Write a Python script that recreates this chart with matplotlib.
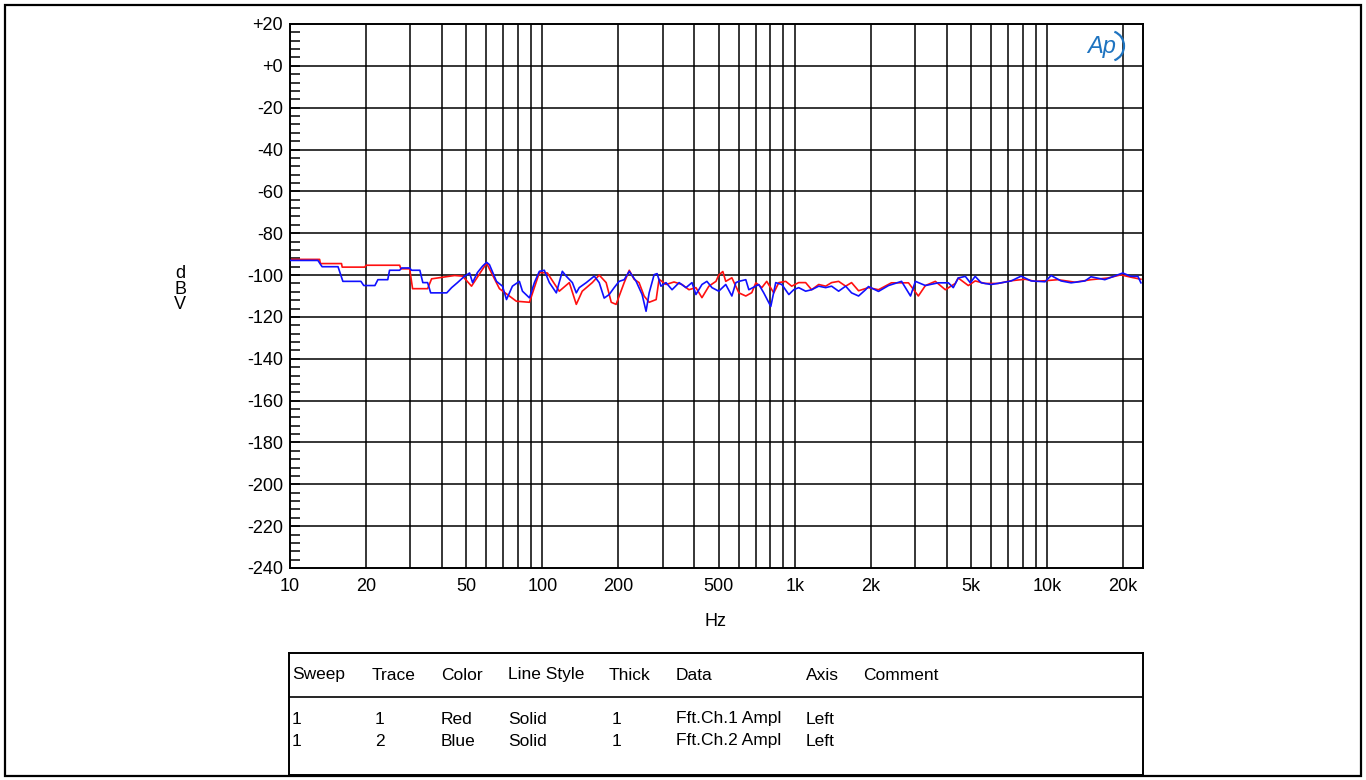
#!/usr/bin/env python

""" FFT noise spectrum, ch1 / ch2, dBV vs Hz """

import matplotlib
matplotlib.use("Agg")
import matplotlib.pyplot as plt
from matplotlib.patches import Rectangle, Arc

# trace 1 (red), Fft.Ch.1 Ampl
red_freq = [10, 13.1, 13.2, 16.0, 16.1, 19.8, 20.0, 27.2, 27.5, 29.8, 30.6,
            35.1, 36.4, 44.9, 48.3, 52.4, 60.1, 67.6, 78.9, 88.9, 97.3, 104.7,
            116.7, 127.9, 136.3, 143.9, 157.7, 168, 179, 187.5, 196, 211, 221,
            231, 241.7, 253, 265, 282.5, 290, 309, 332.5, 357.5, 381, 406, 429,
            457, 487.5, 500, 519, 533, 563.6, 601, 640, 676, 701.5, 741, 774.6,
            826, 865, 921, 973, 1037, 1105, 1167, 1245, 1327, 1400, 1493, 1592,
            1680, 1791, 1960, 2148, 2417, 2824, 3090, 3296, 3608, 3953, 4327,
            4446, 4875, 5190, 5690, 6400, 7210, 8190, 8970, 9820, 11050, 12900,
            14930, 17420, 19600, 21480, 23550]
red_dbv = [-92.5, -92.5, -94.5, -94.5, -96.2, -96.2, -95.3, -95.3, -97.0, -97.0,
           -106.5, -106.5, -101.8, -100.2, -100.5, -105.3, -94.3, -106.5, -112.5,
           -113.0, -98.8, -99.0, -107.7, -103.6, -114.0, -107.7, -103.6, -100.0,
           -103.6, -113.0, -114.0, -103.6, -97.7, -102.0, -103.6, -110.0, -113.0,
           -111.7, -102.0, -104.5, -103.3, -104.5, -107.0, -106.0, -110.8, -105.3,
           -103.0, -100.0, -98.3, -103.0, -101.3, -108.5, -110.0, -108.4, -103.7,
           -106.0, -103.0, -108.5, -103.6, -103.0, -105.3, -103.6, -103.6, -107.0,
           -104.5, -105.3, -103.6, -103.0, -105.3, -103.6, -107.5, -106.0, -107.0,
           -103.7, -103.7, -110.0, -105.0, -103.0, -107.0, -104.0, -101.4, -105.0,
           -102.8, -104.0, -104.0, -102.7, -102.0, -103.0, -102.7, -102.2, -103.4,
           -102.2, -101.4, -99.9, -101.0, -102.0]

# trace 2 (blue), Fft.Ch.2 Ampl
blue_freq = [10, 12.9, 13.4, 15.5, 16.2, 19.1, 19.6, 21.7, 22.3, 24.4, 24.8,
             27.2, 27.7, 29.8, 30.3, 32.7, 33.6, 35.1, 36.1, 41.8, 43.7, 46.1,
             49.2, 51.5, 52.9, 55.3, 57.9, 60.1, 61.7, 65.8, 69.5, 72.1, 76.1,
             81.1, 83.4, 88.9, 93, 97.3, 101.8, 106.6, 113.6, 120, 124.5, 131.5,
             136.3, 140, 149.3, 160.6, 168, 175.8, 184, 192.6, 201.5, 211, 221,
             235.3, 248.5, 257.6, 265, 277.3, 285, 295, 309, 326.6, 348.3, 370.8,
             391.7, 406, 429, 448.8, 470, 500, 533, 563.6, 584.6, 601, 640, 658,
             721, 754, 804, 841, 889, 948, 991, 1037, 1105, 1167, 1245, 1327,
             1400, 1493, 1592, 1680, 1791, 1909, 1960, 2148, 2354, 2651, 2877,
             3008, 3296, 3708, 4064, 4250, 4446, 4743, 4966, 5190, 5483, 6008,
             6580, 7210, 7890, 8650, 9820, 10380, 11360, 12450, 14130, 14930,
             16940, 18570, 19950, 21480, 22900, 23550]
blue_dbv = [-93.0, -93.0, -96.0, -96.0, -103.0, -103.0, -105.0, -105.0, -102.2,
            -102.2, -97.7, -97.7, -96.6, -96.6, -97.7, -97.7, -103.6, -103.6,
            -108.5, -108.5, -106.0, -103.6, -100.5, -99.0, -103.6, -98.8, -95.8,
            -93.9, -95.0, -103.0, -105.3, -111.7, -105.3, -103.0, -107.7, -110.9,
            -103.6, -98.2, -97.7, -103.6, -108.5, -98.2, -100.6, -103.6, -108.5,
            -106.0, -103.6, -100.5, -103.6, -111.0, -109.3, -106.0, -103.0, -102.2,
            -98.2, -103.0, -109.3, -117.3, -108.5, -99.8, -99.3, -105.3, -103.6,
            -107.0, -103.6, -106.0, -103.6, -109.3, -104.5, -103.0, -106.0, -107.7,
            -104.5, -110.0, -103.6, -103.0, -102.2, -107.0, -104.5, -108.5, -115.0,
            -103.6, -104.5, -109.3, -107.0, -106.0, -107.7, -107.0, -105.3, -106.0,
            -105.3, -107.7, -105.3, -108.5, -110.0, -107.0, -105.5, -107.8, -105.0,
            -103.0, -110.0, -103.0, -105.0, -103.7, -103.7, -106.0, -101.4, -100.6,
            -103.7, -100.6, -103.7, -104.5, -103.7, -102.8, -100.5, -102.8, -103.2,
            -100.2, -102.8, -103.7, -102.8, -100.8, -102.2, -100.4, -99.0, -100.6,
            -100.6, -103.7]

x_ticks = [10, 20, 50, 100, 200, 500, 1000, 2000, 5000, 10000, 20000]
x_tick_labels = ["10", "20", "50", "100", "200", "500", "1k", "2k", "5k",
                 "10k", "20k"]
y_ticks = [-240, -220, -200, -180, -160, -140, -120, -100, -80, -60, -40,
           -20, 0, 20]
y_tick_labels = ["-240", "-220", "-200", "-180", "-160", "-140", "-120",
                 "-100", "-80", "-60", "-40", "-20", "+0", "+20"]

table_header = ["Sweep", "Trace", "Color", "Line Style", "Thick", "Data",
                "Axis", "Comment"]
table_rows = [["1", "1", "Red", "Solid", "1", "Fft.Ch.1 Ampl", "Left"],
              ["1", "2", "Blue", "Solid", "1", "Fft.Ch.2 Ampl", "Left"]]

W, H = 1366, 780


def main():

    plt.rcParams['font.family'] = ["Liberation Sans", "DejaVu Sans"]
    plt.rcParams['font.size'] = 13

    fig = plt.figure(figsize=(W / 100, H / 100), dpi=100)

    # outer frame
    fig.add_artist(Rectangle((5 / W, 4 / H), 1356 / W, 771 / H,
                             transform=fig.transFigure, fill=False,
                             edgecolor="black", linewidth=1.6))

    ax = fig.add_axes([290 / W, 1 - 568 / H, 853 / W, 544 / H])
    ax.semilogx(red_freq, red_dbv, color="#ff1010", lw=1.2, zorder=2)
    ax.semilogx(blue_freq, blue_dbv, color="#1010ff", lw=1.2, zorder=3)

    ax.set_xlim(10, 24000)
    ax.set_ylim(-240, 20)

    grid_x = [m * d for d in (10, 100, 1000) for m in range(2, 11)] + \
             [20000]
    for gx in grid_x:
        ax.axvline(gx, color="black", lw=1.1, zorder=1)
    for gy in y_ticks[1:-1]:
        ax.axhline(gy, color="black", lw=1.1, zorder=1)

    ax.set_xticks(x_ticks)
    ax.set_xticklabels(x_tick_labels)
    ax.set_xticks([], minor=True)
    ax.tick_params(axis="x", which="both", length=0, pad=7)

    ax.set_yticks(y_ticks)
    ax.set_yticklabels(y_tick_labels)
    ax.set_yticks([v for v in range(-240, 21, 4)], minor=True)
    ax.tick_params(axis="y", which="both", direction="in", length=7,
                   width=1.1, pad=5)

    for s in ax.spines.values():
        s.set_linewidth(1.4)

    fig.text(180 / W, 1 - 289 / H, "d\nB\nV", ha="center", va="center",
             linespacing=0.92)
    fig.text(716 / W, 1 - 621 / H, "Hz", ha="center", va="center")

    # AP logo
    fig.text(1102 / W, 1 - 46 / H, "Ap", ha="center", va="center",
             color="#1f74c0", style="italic", fontsize=17)
    fig.add_artist(Arc((1110 / W, 1 - 46 / H), 28 / W, 30 / H,
                       theta1=-80, theta2=80, transform=fig.transFigure,
                       color="#1f74c0", lw=1.6))

    # legend table
    tax = fig.add_axes([289 / W, 1 - 775 / H, 854 / W, 122 / H])
    tax.set_xlim(289, 1143)
    tax.set_ylim(775, 653)
    tax.set_xticks([])
    tax.set_yticks([])
    for s in tax.spines.values():
        s.set_linewidth(1.4)
    tax.axhline(697, color="black", lw=1.2)

    head_x = [292, 372, 441, 508, 609, 676, 806, 863]
    row_x = [292, 375, 441, 508, 612, 676, 806]
    for hx, txt in zip(head_x, table_header):
        tax.text(hx, 675, txt, ha="left", va="center", fontsize=12.5)
    for ry, row in zip([719, 741], table_rows):
        for rx, txt in zip(row_x, row):
            tax.text(rx, ry, txt, ha="left", va="center", fontsize=12.5)

    fig.savefig("out.png", dpi=100)


if __name__ == "__main__":

    main()
